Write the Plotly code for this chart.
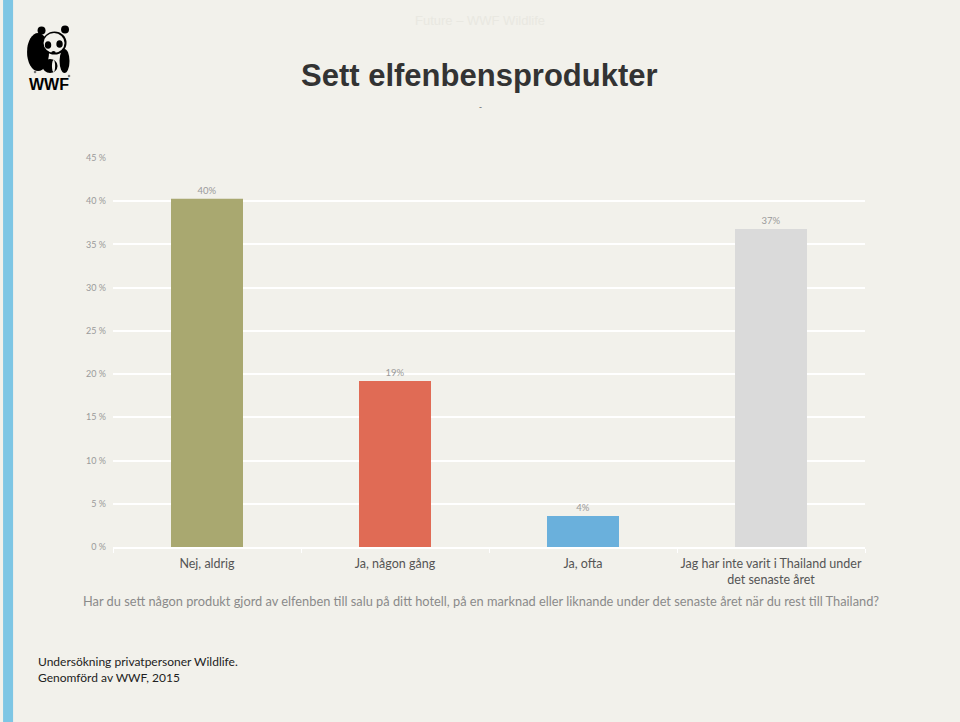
import plotly.graph_objects as go

categories = ["Nej, aldrig", "Ja, någon gång", "Ja, ofta",
              "Jag har inte varit i Thailand under<br>det senaste året"]
values = [40.3, 19.2, 3.6, 36.8]
value_labels = ["40%", "19%", "4%", "37%"]
bar_colors = ["#a9a870", "#e06b55", "#6ab0dc", "#dadada"]
y_ticks = [0, 5, 10, 15, 20, 25, 30, 35, 40, 45]
y_tick_labels = [f"{t} %" for t in y_ticks]

title_text = "Sett elfenbensprodukter"
question_text = ("Har du sett någon produkt gjord av elfenben till salu på ditt hotell, "
                 "på en marknad eller liknande under det senaste året när du rest till Thailand?")
footer_lines = ["Undersökning privatpersoner Wildlife.", "Genomförd av WWF, 2015"]

W, H = 960, 722
L, R, T, B = 113, 94.5, 158, 175
PW, PH = W - L - R, H - T - B

def px(x):
    return (x - L) / PW

def py(y):
    return (H - B - y) / PH

BG = "#f2f1eb"

fig = go.Figure()
fig.add_trace(go.Bar(
    x=categories, y=values,
    marker=dict(color=bar_colors, line=dict(width=0)),
    text=value_labels, textposition="outside",
    textfont=dict(family="Lato, sans-serif", size=9.5, color="#9a9a9a"),
    cliponaxis=False, hoverinfo="skip",
))

shapes = []
# left blue stripe
shapes.append(dict(type="rect", xref="paper", yref="paper",
                   x0=px(3), x1=px(13), y0=py(722), y1=py(0),
                   fillcolor="#7ec6e4", line=dict(width=0), layer="below"))
# simple panda logo
def ell(cx, cy, rx, ry, color="black"):
    shapes.append(dict(type="circle", xref="paper", yref="paper",
                       x0=px(cx - rx), x1=px(cx + rx), y0=py(cy + ry), y1=py(cy - ry),
                       fillcolor=color, line=dict(width=0)))
ell(38, 52, 11, 19)        # body (left, black)
ell(41.5, 30.5, 4, 4)      # left ear
ell(65, 29.5, 4, 4)        # right ear
ell(64.5, 61, 5, 12)       # right leg
ell(50, 66, 7.5, 7)        # front legs
ell(54.5, 43, 12, 11.5)    # head rim
ell(54, 43, 10.5, 10, BG)  # face
ell(48, 45, 3.2, 3.8)      # left eye patch
ell(59.5, 44, 3.2, 3.8)    # right eye patch
ell(53.5, 52.5, 2.2, 1.5)  # nose
ell(53.5, 66, 1.6, 6, BG)  # gap between front legs
ell(35, 72, 1.3, 1.3, "#777777")   # registered mark
ell(69, 76, 1.3, 1.3, "#777777")   # registered mark
fig.update_layout(shapes=shapes)

def ann(text, x, y, size, color, family="Liberation Sans, Arial", xanchor="center"):
    return dict(text=text, x=px(x), y=py(y), xref="paper", yref="paper",
                xanchor=xanchor, yanchor="middle", showarrow=False,
                font=dict(family=family, size=size, color=color))

annotations = [
    ann("<b>WWF</b>", 49, 84.5, 16, "black"),
    ann("Future – WWF Wildlife", 480, 20, 13, "#e9e8e1"),
    ann("<b>" + title_text + "</b>", 480, 75, 31, "#333333"),
    ann("-", 481, 107, 9, "#666666"),
    ann(question_text, 481, 601, 12.8, "#8a8a8a", family="Lato, sans-serif"),
]
for i, line in enumerate(footer_lines):
    annotations.append(ann(line, 36, 661 + i * 16, 12, "#222222",
                           family="Lato, sans-serif", xanchor="left"))
fig.update_layout(annotations=annotations)

fig.update_layout(
    width=W, height=H,
    margin=dict(l=L, r=R, t=T, b=B, pad=0),
    paper_bgcolor=BG, plot_bgcolor=BG,
    showlegend=False, bargap=0.617,
    xaxis=dict(showgrid=False, showline=True, linecolor="#ffffff", linewidth=2,
               ticks="outside", tickson="boundaries", tickcolor="#ffffff", ticklen=4,
               tickangle=0,
               tickfont=dict(family="Lato, sans-serif", size=12.5, color="#555555"),
               ticklabelstandoff=4, fixedrange=True),
    yaxis=dict(range=[0, 45], tickvals=y_ticks, ticktext=y_tick_labels,
               showgrid=True, gridcolor="#ffffff", gridwidth=2, zeroline=False,
               tickfont=dict(family="Lato, sans-serif", size=9, color="#9a9a9a"),
               ticklabelstandoff=6, fixedrange=True),
)

fig.write_html("out.html")
